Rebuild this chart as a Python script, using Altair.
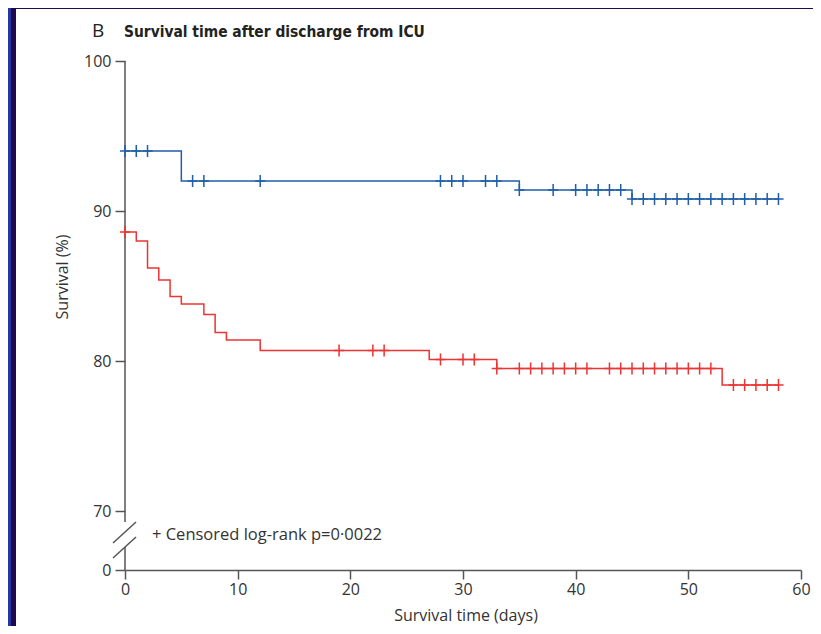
import altair as alt
import pandas as pd

# ---- data ----
blue_time = [0, 5, 35, 45, 58]
blue_surv = [94.0, 92.0, 91.4, 90.8, 90.8]
blue_censored = [0, 1, 2, 6, 7, 12, 28, 29, 30, 32, 33, 35, 38, 40, 41, 42, 43, 44,
                 45, 46, 47, 48, 49, 50, 51, 52, 53, 54, 55, 56, 57, 58]

red_time = [0, 1, 2, 3, 4, 5, 7, 8, 9, 12, 27, 33, 53, 58]
red_surv = [88.6, 88.0, 86.2, 85.4, 84.3, 83.8, 83.1, 81.9, 81.4, 80.7, 80.1, 79.5, 78.4, 78.4]
red_censored = [0, 19, 22, 23, 28, 30, 31, 33, 35, 36, 37, 38, 39, 40, 41, 43, 44, 45,
                46, 47, 48, 49, 50, 51, 52, 54, 55, 56, 57, 58]

x_ticks = [0, 10, 20, 30, 40, 50, 60]
y_ticks = [70, 80, 90, 100]

title_letter = "B"
title_text = "Survival time after discharge from ICU"
note_text = "+ Censored log-rank p=0\u00b70022"
x_title = "Survival time (days)"
y_title = "Survival (%)"

BLUE = "#1f5fa8"
RED = "#ec3434"
AXIS = "#555555"
TEXT = "#333333"
FONT = "Open Sans"
TITLE_FONT = "Liberation Sans Narrow, DejaVu Sans Condensed, sans-serif"

# ---- layout ----
W, H = 676, 509
PX_PER_PCT = 15.0
Y_BOTTOM = 100 - H / PX_PER_PCT   # position of the broken-axis "0"


def step_value(times, values, t):
    v = values[0]
    for tt, vv in zip(times, values):
        if tt <= t:
            v = vv
    return v


lines = pd.DataFrame(
    [{"group": "b", "t": t, "s": s} for t, s in zip(blue_time, blue_surv)]
    + [{"group": "r", "t": t, "s": s} for t, s in zip(red_time, red_surv)]
)
cens = pd.DataFrame(
    [{"group": "b", "t": t, "s": step_value(blue_time, blue_surv, t)} for t in blue_censored]
    + [{"group": "r", "t": t, "s": step_value(red_time, red_surv, t)} for t in red_censored]
)

xscale = alt.Scale(domain=[0, 60], nice=False, zero=False)
yscale = alt.Scale(domain=[Y_BOTTOM, 100], nice=False, zero=False)
cscale = alt.Scale(domain=["b", "r"], range=[BLUE, RED])

x_enc = alt.X(
    "t:Q", scale=xscale,
    axis=alt.Axis(values=x_ticks, title=None, grid=False, domainColor=AXIS, domainWidth=1.5,
                  tickColor=AXIS, tickWidth=1.5, tickSize=9, labelFont=FONT, labelFontSize=16,
                  labelColor=TEXT, labelPadding=2, labelFlush=False),
)
y_enc = alt.Y(
    "s:Q", scale=yscale,
    axis=alt.Axis(values=[Y_BOTTOM] + y_ticks, title=None, grid=False, domain=False,
                  tickColor=AXIS, tickWidth=1.5, tickSize=10, labelFont=FONT, labelFontSize=16,
                  labelColor=TEXT, labelPadding=4, labelFlush=False,
                  labelExpr="datum.value < 67 ? '0' : datum.label"),
)

step_lines = alt.Chart(lines).mark_line(interpolate="step-after", strokeWidth=1.5).encode(
    x=x_enc, y=y_enc, color=alt.Color("group:N", scale=cscale, legend=None), detail="group:N"
)
censor_marks = alt.Chart(cens).mark_point(
    shape="M-0.85,0H0.85M0,-1V1", filled=False, size=144, strokeWidth=1.5, opacity=1
).encode(x="t:Q", y="s:Q", color=alt.Color("group:N", scale=cscale, legend=None))

one = pd.DataFrame({"k": [0]})

# broken y-axis line and the break slashes (pixel decorations)
axis_segments = pd.DataFrame({"ya": [0, 486], "yb": [461, H]})
axis_line = alt.Chart(axis_segments).mark_rule(color=AXIS, strokeWidth=1.5).encode(
    x=alt.value(0), y=alt.Y("ya:Q", scale=None), y2="yb:Q"
)
slashes = pd.DataFrame({"xa": [-12, -12], "xb": [11, 11], "ya": [482, 497], "yb": [461, 476]})
slash_marks = alt.Chart(slashes).mark_rule(color=AXIS, strokeWidth=1.5).encode(
    x=alt.X("xa:Q", scale=None), x2="xb:Q", y=alt.Y("ya:Q", scale=None), y2="yb:Q"
)

# dark frame strips
frame_blue = alt.Chart(one).mark_rect(color="#2636a0").encode(
    x=alt.value(-117), x2=alt.value(-114), y=alt.value(-53), y2=alt.value(H + 56)
)
frame_dark = alt.Chart(one).mark_rect(color="#200a4e").encode(
    x=alt.value(-114), x2=alt.value(-109), y=alt.value(-53), y2=alt.value(H + 56)
)
frame_top = alt.Chart(one).mark_rect(color="#200a4e").encode(
    x=alt.value(-114), x2=alt.value(W + 12), y=alt.value(-53), y2=alt.value(-52)
)

letter = alt.Chart(one).mark_text(
    text=title_letter, font=FONT, fontSize=19, color="#222222", align="left", baseline="alphabetic"
).encode(x=alt.value(-33), y=alt.value(-24))
heading = alt.Chart(one).mark_text(
    text=title_text, font=TITLE_FONT, fontSize=15.4, fontWeight="bold", color="#222222",
    align="left", baseline="alphabetic"
).encode(x=alt.value(-1), y=alt.value(-24))
note = alt.Chart(one).mark_text(
    text=note_text, font=FONT, fontSize=16.5, color=TEXT, align="left", baseline="middle"
).encode(x=alt.value(27), y=alt.value(474))
xt = alt.Chart(one).mark_text(
    text=x_title, font=FONT, fontSize=16, color=TEXT, align="center", baseline="middle"
).encode(x=alt.value(341), y=alt.value(555))
yt = alt.Chart(one).mark_text(
    text=y_title, font=FONT, fontSize=16, color=TEXT, align="center", baseline="middle", angle=270
).encode(x=alt.value(-62), y=alt.value(216))

chart = alt.layer(
    frame_blue, frame_dark, frame_top, axis_line, slash_marks,
    step_lines, censor_marks, letter, heading, note, xt, yt
).properties(
    width=W, height=H,
    autosize=alt.AutoSizeParams(type="none"),
    padding={"left": 117, "top": 53, "right": 12, "bottom": 56},
    background="white",
).configure_view(stroke=None)

chart.save("out.html", embed_options={"renderer": "svg", "actions": False})
